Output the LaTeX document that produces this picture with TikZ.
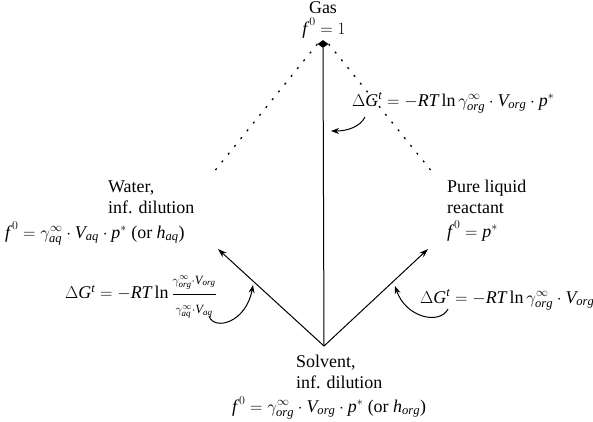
\documentclass[tikz,border=0pt]{standalone}
\usepackage{fontspec}
\setmainfont{Liberation Serif}
\usetikzlibrary{shapes.geometric,arrows.meta}
\newcommand{\vi}[1]{\mathit{#1}}
\newcommand{\ff}{{\vi{f}\mkern2mu}^{0}}
\begin{document}
\begin{tikzpicture}[x=1bp,y=-1bp,
  lbl/.style={font=\fontsize{18}{21}\selectfont, inner sep=0pt},
  conn/.style={line width=1bp},
  arr/.style={conn,-{Stealth[length=9bp,width=6bp]}},
  dots/.style={line width=1.3bp, dash pattern=on 2bp off 8bp},
  bentarr/.style={line width=1bp,-{Stealth[length=8bp,width=6bp]}}]
\useasboundingbox (0,0) rectangle (593,421);
% gas
\node[diamond, fill, inner sep=0pt, minimum width=11bp, minimum height=8bp] (gas) at (323,44) {};
\node[lbl, anchor=base] (gaslbl) at (323,13) {Gas};
\node[lbl, anchor=base] (gasf) at (324,34) {$\ff=1$};
% endpoints
\coordinate (solv) at (324,346);
\coordinate (wtip) at (218,249);
\coordinate (ptip) at (428,249);
\coordinate (wdot) at (213,173);
\coordinate (pdot) at (433,173);
% lines
\draw[conn] (solv) -- (gas.south);
\draw[arr] (solv) -- (wtip);
\draw[arr] (solv) -- (ptip);
\draw[dots] (gas.west) -- (wdot);
\draw[dots] (gas.east) -- (pdot);
% water
\node[lbl, anchor=base west] (water1) at (108,192) {Water,};
\node[lbl, anchor=base west] (water2) at (108,213) {inf. dilution};
\node[lbl, anchor=base west] (water3) at (5,238) {$\ff=\gamma^{\infty}_{\vi{aq}}\cdot \vi{V}_{\vi{aq}}\cdot \vi{p}^{*}$ (or $\vi{h}_{\vi{aq}}$)};
% pure
\node[lbl, anchor=base west] (pure1) at (447,192) {Pure liquid};
\node[lbl, anchor=base west] (pure2) at (447,213) {reactant};
\node[lbl, anchor=base west] (pure3) at (447,237) {$\ff=\vi{p}^{*}$};
% solvent
\node[lbl, anchor=base west] (solv1) at (296,367) {Solvent,};
\node[lbl, anchor=base west] (solv2) at (296,388) {inf. dilution};
\node[lbl, anchor=base west] (solv3) at (232,412) {$\ff=\gamma^{\infty}_{\vi{org}}\cdot \vi{V}_{\vi{org}}\cdot \vi{p}^{*}$ (or $\vi{h}_{\vi{org}}$)};
% Delta G labels
\node[lbl, anchor=base west] (dgtop) at (352,106) {$\Delta \vi{G}^{\vi{t}}=-\vi{RT}\ln\gamma^{\infty}_{\vi{org}}\cdot \vi{V}_{\vi{org}}\cdot \vi{p}^{*}$};
\node[lbl, anchor=west] (dgleft) at (65,297) {$\Delta \vi{G}^{\vi{t}}=-\vi{RT}\ln\frac{\gamma^{\infty}_{\vi{org}}\cdot \vi{V}_{\vi{org}}\rule[-1.2ex]{0pt}{1ex}}{\rule{0pt}{2.2ex}\gamma^{\infty}_{\vi{aq}}\cdot \vi{V}_{\vi{aq}}}$};
\node[lbl, anchor=base west] (dgright) at (420,303) {$\Delta \vi{G}^{\vi{t}}=-\vi{RT}\ln\gamma^{\infty}_{\vi{org}}\cdot \vi{V}_{\vi{org}}$};
% bent arrows
\coordinate (t1s) at (365,117);
\coordinate (t1e) at (331,131);
\draw[bentarr] (t1s) .. controls (360,127) and (347,131) .. (t1e);
\coordinate (l1s) at (209,316);
\coordinate (l1e) at (253,285);
\draw[bentarr] (l1s) .. controls (214,331) and (246,323) .. (l1e);
\coordinate (r1s) at (448,309);
\coordinate (r1e) at (395,286);
\draw[bentarr] (r1s) .. controls (440,325) and (406,318) .. (r1e);
\end{tikzpicture}
\end{document}
